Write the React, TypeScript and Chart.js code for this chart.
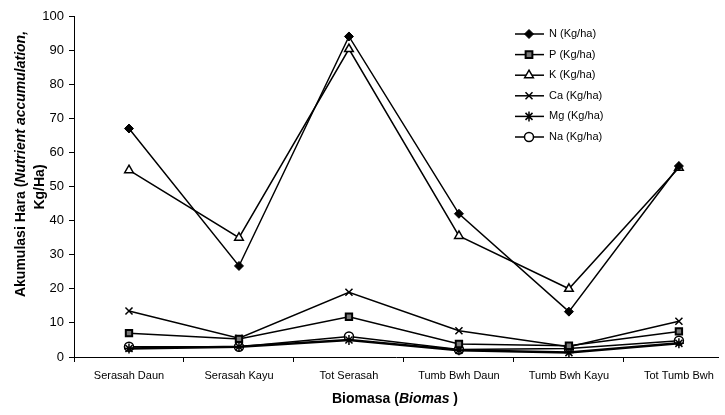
import React, { useEffect, useRef } from "react";
import { Chart, registerables } from "chart.js";

Chart.register(...registerables);

const categories = ["Serasah Daun", "Serasah Kayu", "Tot Serasah", "Tumb Bwh Daun", "Tumb Bwh Kayu", "Tot Tumb Bwh"];
const seriesNames = ["N (Kg/ha)", "P (Kg/ha)", "K (Kg/ha)", "Ca (Kg/ha)", "Mg (Kg/ha)", "Na (Kg/ha)"];
const nValues = [67, 26.7, 94, 42, 13.3, 56];
const pValues = [7, 5.3, 11.8, 3.8, 3.3, 7.5];
const kValues = [54.8, 35, 90.3, 35.5, 20, 55.5];
const caValues = [13.5, 5.5, 19, 7.7, 3, 10.5];
const mgValues = [2.5, 3, 5, 2, 1.3, 4];
const naValues = [3, 3, 6, 2.2, 2.5, 4.8];
const yTicks = [0, 10, 20, 30, 40, 50, 60, 70, 80, 90, 100];

const FONT = "'Liberation Sans', Arial, sans-serif";

const styles = [
  { pointStyle: "rectRot", radius: 4.5, bg: "#000", border: "#000", bw: 1, lw: 1.5 },
  { pointStyle: "rect", radius: 4.5, bg: "#777", border: "#000", bw: 2, lw: 1.5 },
  { pointStyle: "triangle", radius: 5, bg: "#fff", border: "#000", bw: 1.5, lw: 1.5 },
  { pointStyle: "crossRot", radius: 5, bg: "#000", border: "#000", bw: 1.5, lw: 1.5 },
  { pointStyle: "star", radius: 5, bg: "#000", border: "#000", bw: 1.5, lw: 2.5 },
  { pointStyle: "circle", radius: 4.5, bg: "#fff", border: "#000", bw: 1.5, lw: 1.5 },
];

function drawMarker(ctx: CanvasRenderingContext2D, st: any, x: number, y: number) {
  const r = st.radius;
  ctx.beginPath();
  switch (st.pointStyle) {
    case "rectRot":
      ctx.moveTo(x, y - r);
      ctx.lineTo(x + r, y);
      ctx.lineTo(x, y + r);
      ctx.lineTo(x - r, y);
      ctx.closePath();
      ctx.fill();
      ctx.stroke();
      break;
    case "rect": {
      const s = r * 0.75;
      ctx.rect(x - s, y - s, 2 * s, 2 * s);
      ctx.fill();
      ctx.stroke();
      break;
    }
    case "triangle":
      ctx.moveTo(x, y - r);
      ctx.lineTo(x + r * 0.87, y + r * 0.5);
      ctx.lineTo(x - r * 0.87, y + r * 0.5);
      ctx.closePath();
      ctx.fill();
      ctx.stroke();
      break;
    case "crossRot": {
      const d = r * 0.7;
      ctx.moveTo(x - d, y - d);
      ctx.lineTo(x + d, y + d);
      ctx.moveTo(x + d, y - d);
      ctx.lineTo(x - d, y + d);
      ctx.stroke();
      break;
    }
    case "star": {
      const d = r * 0.7;
      ctx.moveTo(x - d, y - d);
      ctx.lineTo(x + d, y + d);
      ctx.moveTo(x + d, y - d);
      ctx.lineTo(x - d, y + d);
      ctx.moveTo(x, y - r);
      ctx.lineTo(x, y + r);
      ctx.stroke();
      break;
    }
    case "circle":
      ctx.arc(x, y, r, 0, Math.PI * 2);
      ctx.fill();
      ctx.stroke();
      break;
  }
}

const legendPlugin = {
  id: "customLegend",
  afterDraw(chart: any) {
    const ctx = chart.ctx;
    ctx.save();
    chart.data.datasets.forEach((ds: any, i: number) => {
      const y = 34 + i * 20.6;
      const st = styles[i];
      ctx.strokeStyle = "#000";
      ctx.lineWidth = 1.5;
      ctx.beginPath();
      ctx.moveTo(515, y);
      ctx.lineTo(544, y);
      ctx.stroke();
      ctx.fillStyle = st.bg;
      ctx.strokeStyle = st.border;
      ctx.lineWidth = st.bw;
      drawMarker(ctx, st, 529, y);
      ctx.fillStyle = "#000";
      ctx.font = `11px ${FONT}`;
      ctx.textBaseline = "middle";
      ctx.textAlign = "left";
      ctx.fillText(ds.label, 549, y);
    });
    ctx.restore();
  },
};

export default function App() {
  const canvasRef = useRef<HTMLCanvasElement>(null);

  useEffect(() => {
    document.body.style.margin = "0";
    const allValues = [nValues, pValues, kValues, caValues, mgValues, naValues];
    const datasets = allValues.map((vals, i) => ({
      label: seriesNames[i],
      data: vals.map((v, j) => ({ x: j, y: v })),
      borderColor: "#000",
      borderWidth: styles[i].lw,
      backgroundColor: styles[i].bg,
      pointStyle: styles[i].pointStyle,
      pointRadius: styles[i].radius,
      pointBackgroundColor: styles[i].bg,
      pointBorderColor: styles[i].border,
      pointBorderWidth: styles[i].bw,
      tension: 0,
      fill: false,
    }));

    const chart = new Chart(canvasRef.current as HTMLCanvasElement, {
      type: "line",
      data: { datasets },
      options: {
        animation: false,
        responsive: false,
        events: [],
        layout: { padding: { left: 0, top: 16, right: 5, bottom: 0 } },
        plugins: { legend: { display: false }, tooltip: { enabled: false } },
        scales: {
          x: {
            type: "linear",
            min: -0.5,
            max: 5.36,
            afterBuildTicks: (scale: any) => {
              const t: any[] = [];
              for (let v = -0.5; v <= 5; v += 0.5) t.push({ value: v });
              scale.ticks = t;
            },
            afterFit: (scale: any) => {
              scale.height = 58;
            },
            border: { display: true, color: "#000", width: 1 },
            grid: {
              display: true,
              drawOnChartArea: false,
              drawTicks: true,
              tickLength: 5,
              tickColor: (ctx: any) =>
                ctx.tick && Number.isInteger(ctx.tick.value) ? "rgba(0,0,0,0)" : "#000",
            },
            ticks: {
              autoSkip: false,
              maxRotation: 0,
              minRotation: 0,
              padding: 7,
              color: "#000",
              font: { family: FONT, size: 11 },
              callback: (v: any) => (Number.isInteger(v) ? categories[v] : ""),
            },
          },
          y: {
            min: 0,
            max: 100,
            afterBuildTicks: (scale: any) => {
              scale.ticks = yTicks.map((v) => ({ value: v }));
            },
            afterFit: (scale: any) => {
              scale.width = 74;
            },
            border: { display: true, color: "#000", width: 1 },
            grid: {
              display: true,
              drawOnChartArea: false,
              drawTicks: true,
              tickLength: 5,
              tickColor: "#000",
            },
            ticks: {
              padding: 5,
              color: "#000",
              font: { family: FONT, size: 13 },
            },
          },
        },
      },
      plugins: [legendPlugin],
    } as any);
    return () => chart.destroy();
  }, []);

  const titleFont: React.CSSProperties = {
    position: "absolute",
    fontFamily: FONT,
    fontWeight: "bold",
    fontSize: 14,
    color: "#000",
    whiteSpace: "nowrap",
    transform: "translate(-50%, -50%) rotate(-90deg)",
    lineHeight: 1,
  };

  return (
    <div style={{ position: "relative", width: 725, height: 415, background: "#fff" }}>
      <canvas ref={canvasRef} width={725} height={415} style={{ display: "block" }} />
      <div style={{ ...titleFont, left: 20, top: 164 }}>
        Akumulasi Hara (<i>Nutrient accumulation,</i>
      </div>
      <div style={{ ...titleFont, left: 39, top: 187 }}>Kg/Ha)</div>
      <div
        style={{
          position: "absolute",
          left: 395,
          top: 398,
          transform: "translate(-50%, -50%)",
          fontFamily: FONT,
          fontWeight: "bold",
          fontSize: 14,
          whiteSpace: "nowrap",
          lineHeight: 1,
        }}
      >
        Biomasa (<i>Biomas </i>)
      </div>
    </div>
  );
}
